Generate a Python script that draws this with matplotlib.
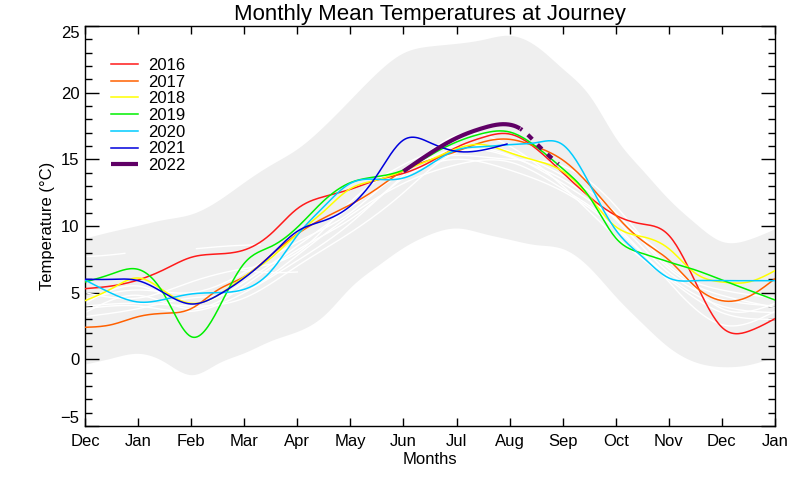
import numpy as np
import matplotlib
matplotlib.use("Agg")
import matplotlib.pyplot as plt

plt.rcParams['font.family'] = ['Liberation Sans', 'DejaVu Sans']

# ---------------- data ----------------
month_labels = ['Dec', 'Jan', 'Feb', 'Mar', 'Apr', 'May', 'Jun', 'Jul',
                'Aug', 'Sep', 'Oct', 'Nov', 'Dec', 'Jan']
half = [i * 0.5 for i in range(27)]  # half-month positions 0..13

band_upper = [9.1, 9.6, 10.05, 10.5, 10.9, 11.9, 13.3, 14.6, 15.8, 17.5, 19.5, 21.5,
              23.0, 23.5, 23.7, 24.0, 24.3, 23.5, 21.8, 19.8, 16.6, 14.2, 12.0, 10.2,
              8.85, 9.0, 9.8]
band_lower = [-0.35, 0.1, 0.45, -0.2, -1.15, -0.3, 0.5, 1.4, 2.1, 3.3, 5.4, 7.0,
              8.4, 9.4, 9.85, 9.45, 9.0, 8.6, 8.3, 6.9, 4.7, 2.7, 0.9, -0.2,
              -0.55, -0.4, 0.2]

t2016 = [5.3, 5.5, 5.95, 6.75, 7.65, 7.9, 8.2, 9.4, 11.3, 12.2, 12.75, 13.45, 13.95,
         14.8, 15.9, 16.65, 16.9, 15.8, 14.0, 12.2, 10.8, 10.15, 9.3, 5.8, 2.4, 2.1, 3.05]
t2017 = [2.4, 2.6, 3.2, 3.45, 3.8, 5.2, 6.2, 7.8, 9.4, 10.6, 11.6, 12.8, 14.15,
         14.95, 15.6, 16.3, 16.5, 15.95, 14.95, 13.1, 10.8, 8.9, 7.45, 5.45, 4.4, 4.7, 6.05]
t2018 = [4.4, 5.3, 6.1, 5.1, 4.2, 4.8, 6.2, 7.6, 9.4, 11.1, 12.8, 13.45, 14.15,
         14.95, 15.8, 16.1, 15.5, 14.9, 14.1, 12.2, 9.95, 9.2, 8.3, 6.45, 5.8, 5.8, 6.65]
t2019 = [5.8, 6.4, 6.75, 4.8, 1.7, 3.7, 7.2, 8.45, 9.9, 11.9, 13.25, 13.7, 14.2,
         15.3, 16.3, 16.95, 17.05, 15.95, 14.3, 12.2, 9.1, 7.95, 7.3, 6.7, 5.95, 5.2, 4.45]
t2020 = [5.95, 4.95, 4.3, 4.5, 4.9, 5.0, 5.25, 6.6, 9.3, 11.45, 13.2, 13.5, 13.6,
         14.6, 15.7, 15.95, 16.1, 16.25, 16.1, 13.2, 9.7, 7.7, 6.1, 5.9, 5.9, 5.9, 5.9]
m2021 = [0, 0.5, 1, 1.5, 2, 2.5, 3, 3.5, 4, 4.5, 5, 5.5, 6, 6.5, 7, 7.5, 7.95]
t2021 = [6.0, 6.0, 5.9, 4.95, 4.15, 4.8, 6.1, 7.8, 9.6, 10.4, 11.5, 13.8, 16.45,
         16.25, 15.6, 15.7, 16.15]
m2022 = [6, 6.5, 7, 7.5, 8, 8.2, 8.55, 8.92]
t2022 = [14.1, 15.45, 16.6, 17.35, 17.6, 17.3, 16.0, 14.65]
last_obs_2022 = 8.2

years = ['2016', '2017', '2018', '2019', '2020', '2021', '2022']
colors = ['#ff1a1a', '#ff6000', '#ffff00', '#00f000', '#00ccff', '#0000dd', '#600066']

# other (older) years, monthly values at Dec..Jan
months = list(range(14))
others = [
    [4.0, 4.2, 4.0, 4.6, 7.0, 9.5, 12.5, 15.5, 15.2, 13.5, 10.5, 6.5, 4.5, 4.0],
    [3.5, 4.8, 3.8, 5.5, 8.2, 10.5, 13.8, 16.8, 16.0, 13.0, 9.2, 6.0, 3.5, 3.0],
    [4.5, 5.2, 5.0, 6.5, 8.8, 11.0, 14.2, 15.3, 15.0, 14.5, 11.5, 7.0, 5.2, 4.6],
    [3.2, 3.8, 4.6, 5.2, 7.8, 10.8, 13.2, 14.6, 14.8, 12.8, 10.0, 5.8, 2.6, 3.6],
    [5.0, 4.6, 5.8, 6.8, 8.0, 11.8, 14.6, 16.0, 15.6, 13.8, 11.0, 6.8, 4.8, 3.9],
    [3.8, 4.0, 3.6, 5.0, 7.4, 10.2, 13.6, 15.0, 14.2, 12.6, 9.8, 6.2, 4.0, 3.5],
    [4.2, 5.5, 4.2, 5.8, 8.5, 11.4, 14.0, 15.8, 15.3, 13.2, 10.6, 7.4, 3.8, 4.2],
]
seg_m = [[0, 0.4, 0.75], [2.1, 2.7, 3.3], [2.9, 3.5, 4.0]]
seg_t = [[7.7, 7.8, 7.95], [8.3, 8.5, 8.6], [6.7, 6.5, 6.55]]


def spline(x, y, n=400):
    x = np.asarray(x, float)
    y = np.asarray(y, float)
    k = len(x)
    if k < 3:
        xs = np.linspace(x[0], x[-1], n)
        return xs, np.interp(xs, x, y)
    h = np.diff(x)
    A = np.zeros((k, k))
    b = np.zeros(k)
    A[0, 0] = 1
    A[-1, -1] = 1
    for i in range(1, k - 1):
        A[i, i - 1] = h[i - 1]
        A[i, i] = 2 * (h[i - 1] + h[i])
        A[i, i + 1] = h[i]
        b[i] = 6 * ((y[i + 1] - y[i]) / h[i] - (y[i] - y[i - 1]) / h[i - 1])
    M = np.linalg.solve(A, b)
    xs = np.linspace(x[0], x[-1], n)
    idx = np.clip(np.searchsorted(x, xs) - 1, 0, k - 2)
    x0, x1 = x[idx], x[idx + 1]
    hh = x1 - x0
    a = (x1 - xs) / hh
    bb = (xs - x0) / hh
    ys = (a * y[idx] + bb * y[idx + 1]
          + ((a ** 3 - a) * M[idx] + (bb ** 3 - bb) * M[idx + 1]) * hh ** 2 / 6)
    return xs, ys


fig = plt.figure(figsize=(8, 4.8), dpi=100)
ax = fig.add_axes([85 / 800, 1 - 426 / 480, 690 / 800, 400 / 480])

xs, up = spline(half, band_upper)
_, lo = spline(half, band_lower)
ax.fill_between(xs, lo, up, color='#efefef', lw=0, zorder=1)

for o in others:
    sx, sy = spline(months, o)
    ax.plot(sx, sy, color='white', lw=1.0, zorder=2)
for sm, st in zip(seg_m, seg_t):
    sx, sy = spline(sm, st)
    ax.plot(sx, sy, color='white', lw=1.0, zorder=2)

series = [(half, t2016), (half, t2017), (half, t2018), (half, t2019),
          (half, t2020), (m2021, t2021)]
for (mx, ty), yr, c in zip(series, years[:6], colors[:6]):
    sx, sy = spline(mx, ty)
    ax.plot(sx, sy, color=c, lw=1.1, zorder=3, label=yr)

sx, sy = spline(m2022, t2022)
obs = sx <= last_obs_2022
ax.plot(sx[obs], sy[obs], color=colors[6], lw=3.0, zorder=4, label=years[6],
        solid_capstyle='butt')
ax.plot(sx[~obs], sy[~obs], color=colors[6], lw=3.0, zorder=4,
        linestyle=(1.0, (1.5, 1.8)), dash_capstyle='butt')

ax.set_xlim(0, 13)
ax.set_ylim(-5, 25)
ax.set_xticks(range(14))
ax.set_xticklabels(month_labels)
ax.set_yticks([-5, 0, 5, 10, 15, 20, 25])
ax.set_yticks(range(-5, 26), minor=True)
ax.tick_params(axis='both', which='both', direction='in', colors='black',
               labelsize=12, width=1)
ax.tick_params(axis='x', which='major', length=6, top=True, bottom=True, pad=6)
ax.tick_params(axis='y', which='major', length=10, left=True, right=True, pad=4)
ax.tick_params(axis='y', which='minor', length=5, left=True, right=True)
ax.tick_params(axis='x', which='minor', length=0)
for s in ax.spines.values():
    s.set_linewidth(1.0)

ylabs = ax.get_yticklabels()
ylabs[0].set_va('bottom')
ylabs[-1].set_va('top')

ax.set_title('Monthly Mean Temperatures at Journey', fontsize=16, pad=4)
ax.set_xlabel('Months', fontsize=12, labelpad=2)
ax.set_ylabel('Temperature (\u00b0C)', fontsize=12, labelpad=4)

leg = ax.legend(loc='upper left', bbox_to_anchor=(111 / 800, 1 - 58 / 480),
                bbox_transform=fig.transFigure, frameon=False, fontsize=12,
                borderpad=0, borderaxespad=0, handlelength=1.6,
                handletextpad=0.6, labelspacing=0.1)

fig.savefig('out.png', dpi=100)
